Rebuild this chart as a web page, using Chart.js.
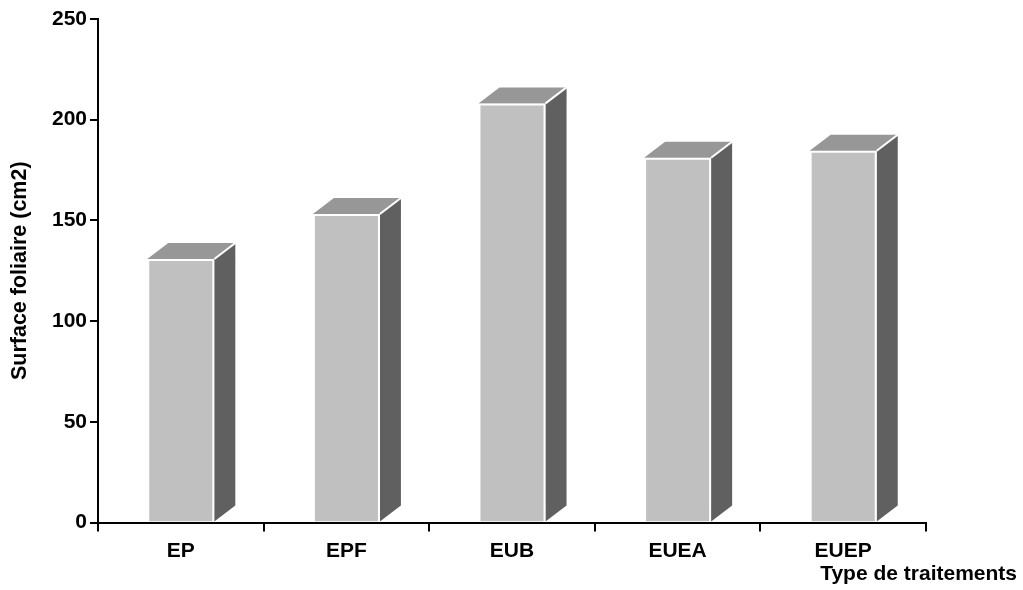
<!DOCTYPE html>
<html>
<head>
<meta charset="utf-8">
<script src="https://cdn.jsdelivr.net/npm/chart.js@4.4.1/dist/chart.umd.min.js"></script>
<style>
html,body{margin:0;padding:0;background:#fff;}
#wrap{width:1023px;height:590px;position:relative;}
</style>
</head>
<body>
<div id="wrap"><canvas id="c" width="1023" height="590"></canvas></div>
<script>
const categories = ['EP', 'EPF', 'EUB', 'EUEA', 'EUEP'];
const surfaceValues = [130.8, 153.2, 208.1, 181.1, 184.6];
const yTickValues = [0, 50, 100, 150, 200, 250];
const yTitle = 'Surface foliaire (cm2)';
const xTitle = 'Type de traitements';

const FONT = "'Liberation Sans', Arial, Helvetica, sans-serif";
const DX = 21, DY = 16;

const bar3d = {
  id: 'bar3d',
  beforeDatasetsDraw(chart) {
    const ctx = chart.ctx;
    const meta = chart.getDatasetMeta(0);
    ctx.save();
    meta.data.forEach(el => {
      const p = el.getProps(['x', 'y', 'width', 'base'], true);
      const l = p.x - p.width / 2, r = p.x + p.width / 2, t = p.y, b = p.base;
      ctx.beginPath();
      ctx.moveTo(r, t);
      ctx.lineTo(r + DX, t - DY);
      ctx.lineTo(r + DX, b - DY);
      ctx.lineTo(r, b);
      ctx.closePath();
      ctx.fillStyle = '#606060';
      ctx.fill();
      ctx.beginPath();
      ctx.moveTo(l, t);
      ctx.lineTo(l + DX, t - DY);
      ctx.lineTo(r + DX, t - DY);
      ctx.lineTo(r, t);
      ctx.closePath();
      ctx.fillStyle = '#979797';
      ctx.fill();
      ctx.beginPath();
      ctx.moveTo(r, t);
      ctx.lineTo(r + DX, t - DY);
      ctx.strokeStyle = '#ffffff';
      ctx.lineWidth = 2;
      ctx.stroke();
    });
    ctx.restore();
  },
  afterDraw(chart) {
    const ctx = chart.ctx;
    ctx.save();
    ctx.font = 'bold 21px ' + FONT;
    ctx.fillStyle = '#000';
    ctx.textAlign = 'right';
    ctx.textBaseline = 'alphabetic';
    ctx.fillText(xTitle, 1017, 580);
    ctx.restore();
  }
};

new Chart(document.getElementById('c'), {
  type: 'bar',
  data: {
    labels: categories,
    datasets: [{
      data: surfaceValues,
      backgroundColor: '#c0c0c0',
      borderColor: '#ffffff',
      borderWidth: 2,
      borderSkipped: 'start',
      barPercentage: 0.405,
      categoryPercentage: 1.0
    }]
  },
  options: {
    responsive: false,
    animation: false,
    devicePixelRatio: 1,
    layout: { padding: { top: 19, right: 97, bottom: 0, left: 0 } },
    plugins: { legend: { display: false }, tooltip: { enabled: false } },
    scales: {
      x: {
        grid: { display: true, offset: true, drawOnChartArea: false, drawTicks: true, tickLength: 9, color: '#000', lineWidth: 2 },
        border: { display: true, color: '#000', width: 2 },
        ticks: { color: '#000', font: { family: FONT, size: 21, weight: 'bold' }, padding: 7 },
        afterFit(s) { s.height = 67.5; }
      },
      y: {
        min: 0, max: 250,
        afterBuildTicks(s) { s.ticks = yTickValues.map(v => ({ value: v })); },
        grid: { display: true, drawOnChartArea: false, drawTicks: true, tickLength: 8, color: '#000', lineWidth: 2 },
        border: { display: true, color: '#000', width: 2 },
        ticks: { color: '#000', font: { family: FONT, size: 21, weight: 'bold' }, padding: 3 },
        title: { display: true, text: yTitle, color: '#000', font: { family: FONT, size: 21.5, weight: 'bold' }, padding: { top: 7, bottom: 0 } },
        afterFit(s) { s.width = 98; }
      }
    }
  },
  plugins: [bar3d]
});
</script>
</body>
</html>
